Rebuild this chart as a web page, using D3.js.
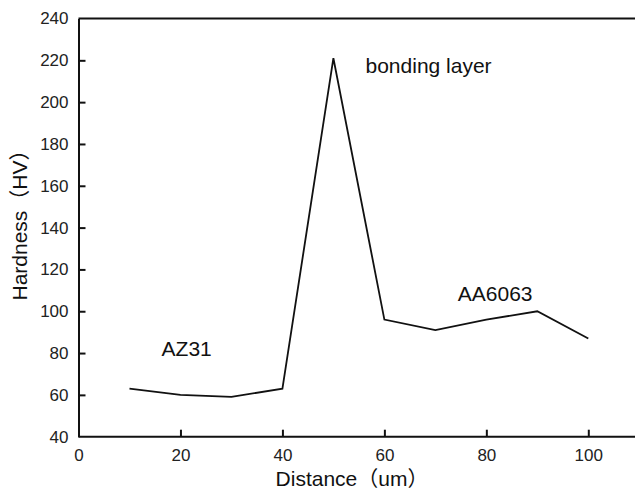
<!DOCTYPE html>
<html><head><meta charset="utf-8">
<script src="https://cdn.jsdelivr.net/npm/d3@7/dist/d3.min.js"></script>
<style>
html,body{margin:0;padding:0;background:#fff;overflow:hidden;}
svg{display:block;font-family:"Liberation Sans",Arial,"Noto Sans CJK SC",sans-serif;}
</style></head><body>
<svg id="c" width="635" height="496"></svg>
<script>
const distance = [10, 20, 30, 40, 50, 60, 70, 80, 90, 100];
const hardness = [63, 60, 59, 63, 221, 96, 91, 96, 100, 87];
const xTicks = [0, 20, 40, 60, 80, 100];
const yTicks = [40, 60, 80, 100, 120, 140, 160, 180, 200, 220, 240];
const annotations = [
  {text: "bonding layer", x: 56.3, y: 214},
  {text: "AZ31", x: 16.3, y: 78.5},
  {text: "AA6063", x: 74.4, y: 105}
];

const svg = d3.select("#c");
const L = 78.5, T = 18.5, B = 436.7;
const x = d3.scaleLinear().domain([0, 100]).range([L, 588.3]);
const y = d3.scaleLinear().domain([40, 240]).range([B, T]);

svg.append("line").attr("x1", L).attr("x2", 640).attr("y1", T).attr("y2", T)
  .attr("stroke", "#111").attr("stroke-width", 2);

const xAxis = svg.append("g").attr("transform", `translate(0,${B})`)
  .call(d3.axisBottom(x).tickValues(xTicks).tickSizeInner(-7).tickSizeOuter(0).tickPadding(12));
xAxis.select(".domain").attr("d", `M${L},0H640`);
const yAxis = svg.append("g").attr("transform", `translate(${L},0)`)
  .call(d3.axisLeft(y).tickValues(yTicks).tickSizeInner(-7).tickSizeOuter(0).tickPadding(10));

[xAxis, yAxis].forEach(g => {
  g.select(".domain").attr("stroke", "#111").attr("stroke-width", 2);
  g.selectAll(".tick line").attr("stroke", "#111").attr("stroke-width", 2);
  g.selectAll(".tick text").attr("fill", "#222").style("font-size", "17px")
    .style("font-family", '"Liberation Sans",Arial,sans-serif');
});
yAxis.selectAll(".tick").filter(d => d === 240 || d === 40).select("line").remove();
xAxis.selectAll(".tick").filter(d => d === 0).select("line").remove();

const line = d3.line().x((d, i) => x(distance[i])).y(d => y(d));
svg.append("path").datum(hardness).attr("d", line)
  .attr("fill", "none").attr("stroke", "#111").attr("stroke-width", 1.8)
  .attr("stroke-linejoin", "miter");

svg.selectAll("text.ann").data(annotations).enter().append("text")
  .attr("class", "ann").attr("x", d => x(d.x)).attr("y", d => y(d.y))
  .attr("fill", "#111").style("font-size", "21px").text(d => d.text);

svg.append("text").attr("x", 352).attr("y", 486).attr("text-anchor", "middle")
  .attr("fill", "#111").style("font-size", "21px").text("Distance（um）");
svg.append("text").attr("transform", "translate(27,220) rotate(-90)")
  .attr("text-anchor", "middle").attr("fill", "#111").style("font-size", "21px")
  .text("Hardness（HV）");
</script>
</body></html>
